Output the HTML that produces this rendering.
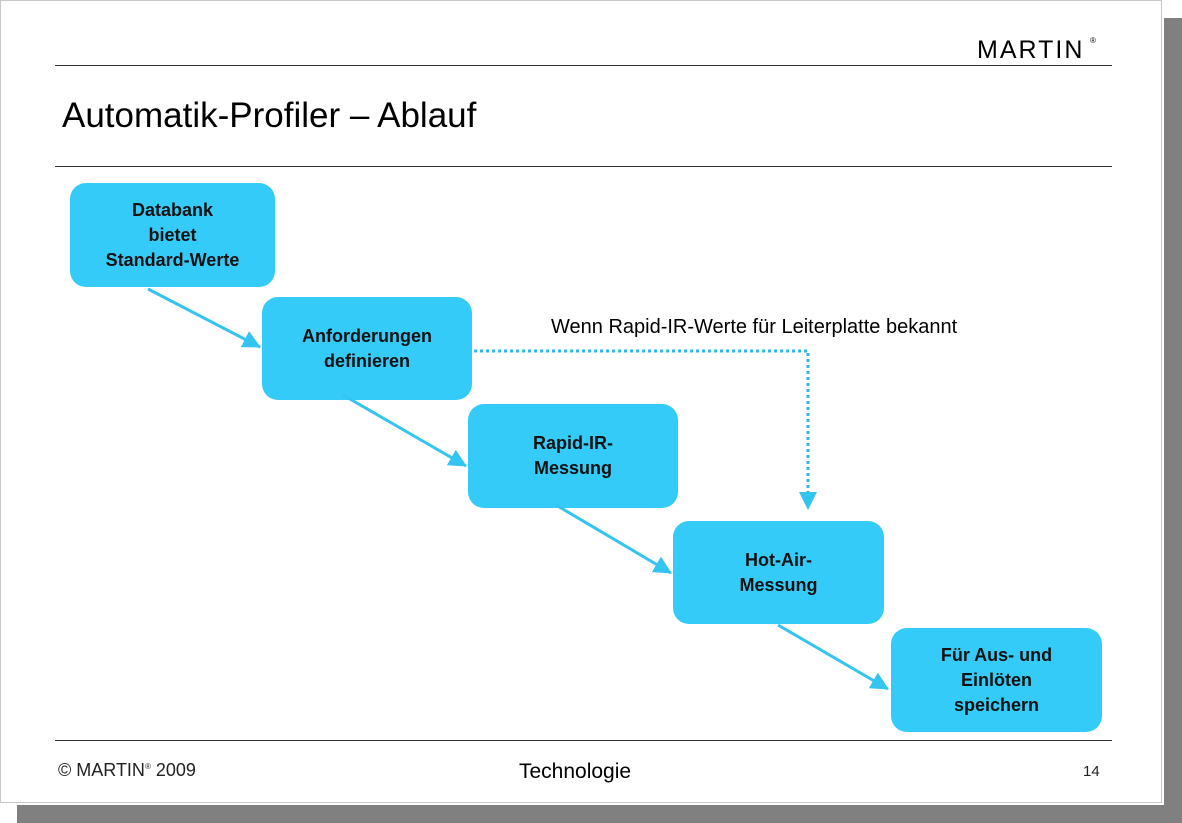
<!DOCTYPE html>
<html><head><meta charset="utf-8"><style>
body{margin:0;width:1182px;height:823px;background:#fff;position:relative;overflow:hidden;font-family:"Liberation Sans",sans-serif}
.sh1{position:absolute;left:17px;top:805px;width:1165px;height:18px;background:#808080}
.sh2{position:absolute;left:1164px;top:18px;width:18px;height:805px;background:#808080}
.slide{position:absolute;left:0;top:0;width:1162px;height:803px;border:1px solid #c8c8c8;box-sizing:border-box;background:#fff}
.ln{position:absolute;left:55px;width:1057px;height:1px;background:#333}
.box{position:absolute;background:#35cbf8;border-radius:16px;display:flex;align-items:center;justify-content:center;text-align:center;font-weight:bold;font-size:18px;line-height:25px;color:#111}
.t{position:absolute;color:#000;white-space:nowrap}
</style></head><body>
<div class="sh1"></div><div class="sh2"></div>
<div class="slide"></div>
<div class="ln" style="top:65px;width:1057px"></div>
<div class="ln" style="top:166px"></div>
<div class="ln" style="top:740px"></div>
<div class="t" style="left:977px;top:36px;font-size:25px;letter-spacing:2px;font-weight:500">MARTIN</div>
<div class="t" style="left:1090px;top:36px;font-size:8px">®</div>
<div class="t" style="left:62px;top:96px;font-size:35px">Automatik-Profiler – Ablauf</div>
<div class="t" style="left:58px;top:760px;font-size:18px;color:#222">© MARTIN<sup style="font-size:8px">®</sup> 2009</div>
<div class="t" style="left:519px;top:760px;font-size:21px">Technologie</div>
<div class="t" style="left:1083px;top:763px;font-size:15px;color:#222">14</div>
<div class="t" style="left:551px;top:316px;font-size:20px">Wenn Rapid-IR-Werte für Leiterplatte bekannt</div>
<div class="box" style="left:70px;top:183px;width:205px;height:104px">Databank<br>bietet<br>Standard-Werte</div>
<div class="box" style="left:262px;top:297px;width:210px;height:103px">Anforderungen<br>definieren</div>
<div class="box" style="left:468px;top:404px;width:210px;height:104px">Rapid-IR-<br>Messung</div>
<div class="box" style="left:673px;top:521px;width:211px;height:103px">Hot-Air-<br>Messung</div>
<div class="box" style="left:891px;top:628px;width:211px;height:104px">Für Aus- und<br>Einlöten<br>speichern</div>
<svg width="1182" height="823" style="position:absolute;left:0;top:0">
<defs><marker id="b" markerWidth="18" markerHeight="18" refX="17" refY="9" orient="auto" markerUnits="userSpaceOnUse"><path d="M0,0L18,9L0,18z" fill="#33c4ef"/></marker></defs>
<g stroke="#33c4ef" stroke-width="3" fill="none">
<line x1="148" y1="289" x2="260" y2="347" marker-end="url(#b)"/>
<line x1="343" y1="395" x2="466" y2="466" marker-end="url(#b)"/>
<line x1="556" y1="505" x2="671" y2="573" marker-end="url(#b)"/>
<line x1="778" y1="625" x2="888" y2="689" marker-end="url(#b)"/>
<path d="M474,351H808V500" stroke-dasharray="3,3" stroke="#33b8e0"/>
</g>
<path d="M799,492L817,492L808,510z" fill="#33c4ef"/>
</svg>
</body></html>
